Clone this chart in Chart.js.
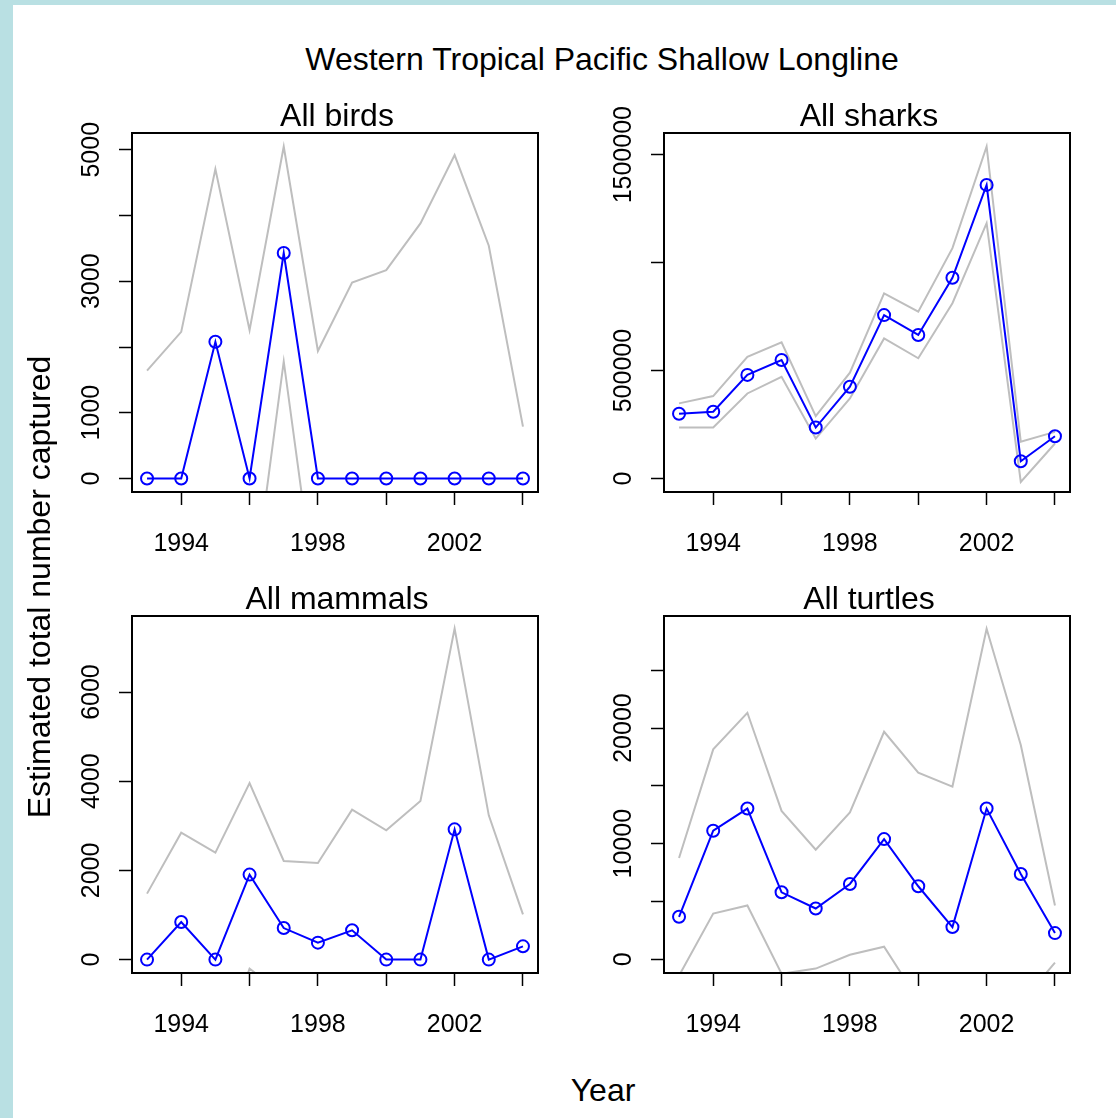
<!DOCTYPE html>
<html lang="en">
<head>
<meta charset="UTF-8">
<title>Western Tropical Pacific Shallow Longline</title>
<script src="https://cdn.jsdelivr.net/npm/chart.js"></script>
<style>
  html, body { margin: 0; overflow: hidden; background: #b9e0e3; }
  .page { position: absolute; left: 13px; top: 5px; width: 1103px; height: 1113px; background: #fff; }
  .txt { position: absolute; font-family: "Liberation Sans", Arial, sans-serif; color: #000;
         white-space: nowrap; line-height: 1; font-size: 32px; transform: translateX(-50%); }
  canvas { position: absolute; }
</style>
</head>
<body>
<div class="page"></div>

<canvas id="birds" width="514" height="459" style="left:32px;top:103px"></canvas>
<canvas id="sharks" width="514" height="459" style="left:564px;top:103px"></canvas>
<canvas id="mammals" width="514" height="457" style="left:32px;top:586px"></canvas>
<canvas id="turtles" width="514" height="457" style="left:564px;top:586px"></canvas>

<div class="txt" style="left:602px;top:43px">Western Tropical Pacific Shallow Longline</div>
<div class="txt" style="left:337px;top:99px">All birds</div>
<div class="txt" style="left:869px;top:99px">All sharks</div>
<div class="txt" style="left:337px;top:582px">All mammals</div>
<div class="txt" style="left:869px;top:582px">All turtles</div>
<div class="txt" style="left:603px;top:1074px">Year</div>
<div class="txt" style="left:39px;top:571px;width:600px;height:32px;line-height:32px;text-align:center;transform:translateX(-50%) rotate(-90deg)">Estimated total number captured</div>

<script>
// years on the x axis
const years = [1993, 1994, 1995, 1996, 1997, 1998, 1999, 2000, 2001, 2002, 2003, 2004];
const yearTicks = [1994, 1996, 1998, 2000, 2002, 2004];
const yearLabels = [1994, 1998, 2002];

// All birds
const birdsEst   = [0, 0, 2080, 0, 3430, 0, 0, 0, 0, 0, 0, 0];
const birdsUpper = [1640, 2230, 4705, 2256, 5050, 1940, 2980, 3170, 3880, 4920, 3540, 790];
const birdsLower = [-1640, -2230, -550, -2150, 1780, -2050, -2980, -3170, -3880, -4920, -3540, -790];
const birdsTicks = [0, 1000, 2000, 3000, 4000, 5000];
const birdsLabels = [0, 1000, 3000, 5000];

// All sharks
const sharksEst   = [300000, 309000, 480000, 549000, 236000, 425000, 757000, 665000, 930000, 1360000, 80000, 196000];
const sharksUpper = [348000, 382000, 564000, 631000, 289000, 490000, 858000, 773000, 1067000, 1538000, 170000, 216000];
const sharksLower = [236000, 236000, 394000, 471000, 185000, 371000, 649000, 557000, 812000, 1183000, -16000, 162000];
const sharksTicks = [0, 500000, 1000000, 1500000];
const sharksLabels = [0, 500000, 1500000];

// All mammals
const mammalsEst   = [0, 843, 0, 1906, 708, 381, 657, 0, 0, 2921, 0, 298];
const mammalsUpper = [1480, 2847, 2399, 3960, 2211, 2166, 3363, 2899, 3556, 7421, 3235, 1016];
const mammalsLower = [-1480, -1160, -2400, -200, -800, -1400, -2050, -2900, -3560, -1580, -3240, -420];
const mammalsTicks = [0, 2000, 4000, 6000];
const mammalsLabels = [0, 2000, 4000, 6000];

// All turtles
const turtlesEst   = [3680, 11120, 13040, 5800, 4400, 6520, 10400, 6320, 2790, 13040, 7385, 2270];
const turtlesUpper = [8770, 18160, 21320, 12840, 9480, 12700, 19680, 16150, 14940, 28590, 18530, 4655];
const turtlesLower = [-1410, 3965, 4655, -1240, -800, 400, 1095, -3510, -9370, -2510, -3760, -290];
const turtlesTicks = [0, 5000, 10000, 15000, 20000, 25000];
const turtlesLabels = [0, 10000, 20000];

const FONT = '"Liberation Sans", Arial, sans-serif';

const measure = document.createElement('canvas').getContext('2d');
measure.font = '25px ' + FONT;
function yPad(labels) {
  const w = Math.max(...labels.map(l => measure.measureText(String(l)).width));
  return 40 - 13 - w / 2;
}

const boxPlugin = {
  id: 'box',
  afterDraw(chart) {
    const a = chart.chartArea;
    const c = chart.ctx;
    c.save();
    c.strokeStyle = '#000';
    c.lineWidth = 2;
    c.strokeRect(a.left, a.top, a.right - a.left, a.bottom - a.top);
    c.restore();
  }
};

function pts(vals) {
  return years.map((yr, i) => ({ x: yr, y: vals[i] }));
}

function makePanel(id, est, upper, lower, yTicks, yLabels, yMin, yMax) {
  const ctx = document.getElementById(id).getContext('2d');
  return new Chart(ctx, {
    type: 'line',
    data: {
      datasets: [
        { data: pts(est), borderColor: '#0000ff', borderWidth: 2,
          pointRadius: 6, pointBorderWidth: 2, pointBorderColor: '#0000ff',
          pointBackgroundColor: 'rgba(0,0,0,0)' },
        { data: pts(upper), borderColor: '#bebebe', borderWidth: 2, pointRadius: 0 },
        { data: pts(lower), borderColor: '#bebebe', borderWidth: 2, pointRadius: 0 }
      ]
    },
    options: {
      responsive: false,
      animation: false,
      events: [],
      layout: { padding: { top: 30, right: 5, left: 0, bottom: 0 } },
      elements: { line: { tension: 0 } },
      plugins: { legend: { display: false }, tooltip: { enabled: false } },
      scales: {
        x: {
          type: 'linear',
          min: 1992.56,
          max: 2004.44,
          afterBuildTicks: s => { s.ticks = yearTicks.map(v => ({ value: v })); },
          afterFit: s => { s.height = 70; s.paddingLeft = 0; s.paddingRight = 0; },
          border: { display: false },
          grid: { drawOnChartArea: false, drawTicks: true, tickLength: 13, tickColor: '#000', tickWidth: 1.5 },
          ticks: {
            autoSkip: false, maxRotation: 0, padding: 24, color: '#000',
            font: { family: FONT, size: 25 },
            callback: v => yearLabels.includes(v) ? String(v) : ''
          }
        },
        y: {
          type: 'linear',
          min: yMin,
          max: yMax,
          afterBuildTicks: s => { s.ticks = yTicks.map(v => ({ value: v })); },
          afterFit: s => { s.width = 100; s.paddingTop = 0; s.paddingBottom = 0; },
          border: { display: false },
          grid: { drawOnChartArea: false, drawTicks: true, tickLength: 13, tickColor: '#000', tickWidth: 1.5 },
          ticks: {
            autoSkip: false, minRotation: 90, maxRotation: 90, crossAlign: 'center',
            padding: yPad(yLabels), color: '#000',
            font: { family: FONT, size: 25 },
            callback: v => yLabels.includes(v) ? String(v) : ''
          }
        }
      }
    },
    plugins: [boxPlugin]
  });
}

makePanel('birds', birdsEst, birdsUpper, birdsLower, birdsTicks, birdsLabels, -205, 5255);
makePanel('sharks', sharksEst, sharksUpper, sharksLower, sharksTicks, sharksLabels, -62500, 1600500);
makePanel('mammals', mammalsEst, mammalsUpper, mammalsLower, mammalsTicks, mammalsLabels, -300, 7705);
makePanel('turtles', turtlesEst, turtlesUpper, turtlesLower, turtlesTicks, turtlesLabels, -1180, 29690);
</script>
</body>
</html>
